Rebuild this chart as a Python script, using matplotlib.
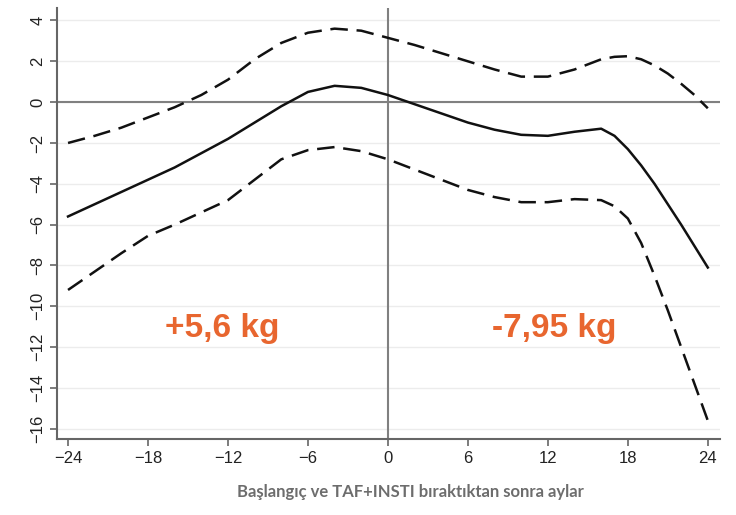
import numpy as np
import matplotlib

matplotlib.use("Agg")
import matplotlib.pyplot as plt

# months relative to TAF+INSTI discontinuation
months = [-24, -22, -20, -18, -16, -14, -12, -10, -8, -6, -4, -2, 0,
          2, 4, 6, 8, 10, 12, 14, 16, 17, 18, 19, 20, 21, 22, 23, 24]

estimate = [-5.6, -5.0, -4.4, -3.8, -3.2, -2.5, -1.8, -1.0, -0.2, 0.5, 0.8, 0.7, 0.35,
            -0.1, -0.55, -1.0, -1.35, -1.6, -1.65, -1.45, -1.3, -1.65, -2.3, -3.1,
            -4.0, -5.0, -6.0, -7.05, -8.1]

upper = [-2.0, -1.65, -1.25, -0.75, -0.25, 0.35, 1.1, 2.1, 2.9, 3.4, 3.6, 3.5, 3.15,
         2.8, 2.4, 2.0, 1.6, 1.25, 1.25, 1.6, 2.1, 2.22, 2.25, 2.1, 1.8, 1.4, 0.9, 0.35, -0.3]

lower = [-9.2, -8.3, -7.4, -6.55, -6.0, -5.4, -4.8, -3.8, -2.8, -2.35, -2.2, -2.4, -2.8,
         -3.3, -3.8, -4.3, -4.65, -4.9, -4.9, -4.75, -4.8, -5.1, -5.7, -6.9,
         -8.5, -10.2, -12.0, -13.8, -15.6]

x_ticks = [-24, -18, -12, -6, 0, 6, 12, 18, 24]
y_ticks = [-16, -14, -12, -10, -8, -6, -4, -2, 0, 2, 4]

annotations = [(-12.4, -11.5, "+5,6 kg"), (12.45, -11.5, "-7,95 kg")]

fig = plt.figure(figsize=(7.36, 5.15), dpi=100)
ax = fig.add_axes([0.0774, 0.1476, 0.9006, 0.8364])

for y in y_ticks:
    ax.axhline(y, color="#ececec", lw=1.0, zorder=0)
ax.axhline(0, color="#808080", lw=1.5, zorder=1)
ax.axvline(0, color="#808080", lw=1.5, zorder=1)

ax.plot(months, estimate, color="#111111", lw=1.8, zorder=3)
ax.plot(months, upper, color="#111111", lw=1.8, dashes=(7, 3.5), zorder=3)
ax.plot(months, lower, color="#111111", lw=1.8, dashes=(7, 3.5), zorder=3)

for x, y, txt in annotations:
    ax.text(x, y, txt, ha="center", va="baseline", fontsize=24, fontweight="bold",
            color="#e8662f", family="Liberation Sans")

ax.set_xlim(-24.83, 24.9)
ax.set_ylim(-16.5, 4.6)
ax.set_xticks(x_ticks)
ax.set_xticklabels([str(v).replace("-", "\u2212") for v in x_ticks])
ax.set_yticks(y_ticks)
ax.set_yticklabels([str(v).replace("-", "\u2212") for v in y_ticks],
                   rotation=90, va="center")

for side in ("top", "right"):
    ax.spines[side].set_visible(False)
for side in ("left", "bottom"):
    ax.spines[side].set_color("#666666")
    ax.spines[side].set_linewidth(1.5)

ax.tick_params(axis="both", colors="#666666", length=5, width=1.2,
               labelsize=12, labelcolor="#222222")
for lab in ax.get_xticklabels() + ax.get_yticklabels():
    lab.set_family("Liberation Sans")

fig.text(410 / 736, 1 - 492 / 515, "Başlangıç ve TAF+INSTI bıraktıktan sonra aylar",
         ha="center", va="center", fontsize=12, fontweight="bold",
         color="#6d6d6d", family="Lato")

fig.savefig("out.png", dpi=100)
